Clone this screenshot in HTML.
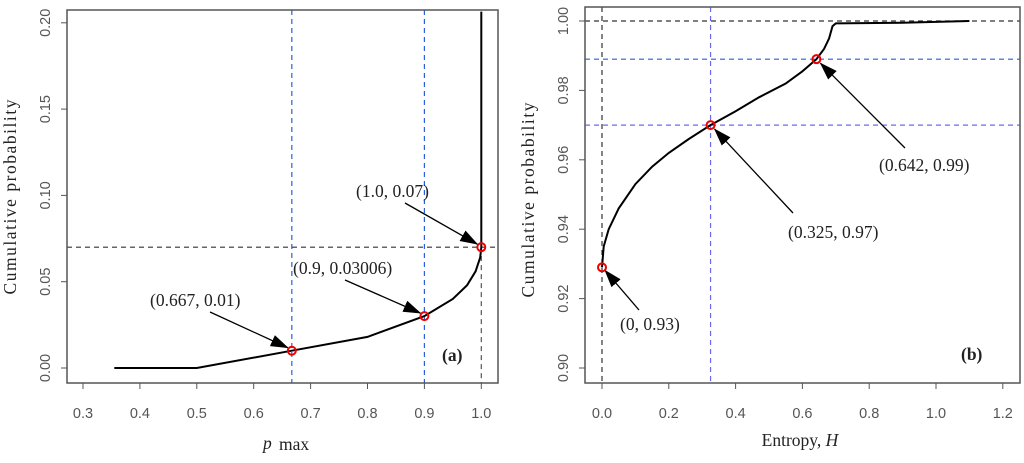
<!DOCTYPE html>
<html><head><meta charset="utf-8"><style>
body{margin:0;background:#fff;width:1024px;height:463px;overflow:hidden}
svg{display:block}
.tk{font-family:"Liberation Sans",sans-serif;font-size:14.5px;fill:#555}
.an{font-family:"Liberation Serif",serif;font-size:17.5px;fill:#222}
</style></head><body>
<svg id="c" width="1024" height="463"></svg>
<script>
// Panel (a)
const aXTicks=[0.3,0.4,0.5,0.6,0.7,0.8,0.9,1.0];
const aYTicks=[0.00,0.05,0.10,0.15,0.20];
const aCurveX=[0.355,0.5,0.667,0.8,0.9,0.95,0.975,0.99,0.998,1.0,1.0];
const aCurveY=[0,0,0.01,0.018,0.03006,0.04,0.048,0.056,0.064,0.07,0.2065];
const aPointsX=[0.667,0.9,1.0];
const aPointsY=[0.01,0.03006,0.07];
const aLabels=["(0.667, 0.01)","(0.9, 0.03006)","(1.0, 0.07)"];
// Panel (b)
const bXTicks=[0.0,0.2,0.4,0.6,0.8,1.0,1.2];
const bYTicks=[0.90,0.92,0.94,0.96,0.98,1.00];
const bCurveX=[0,0.005,0.02,0.05,0.1,0.15,0.2,0.26,0.325,0.4,0.47,0.55,0.6,0.642,0.665,0.68,0.69,0.7,0.9,1.1];
const bCurveY=[0.929,0.935,0.940,0.946,0.953,0.958,0.962,0.966,0.970,0.974,0.978,0.982,0.9855,0.989,0.992,0.995,0.9985,0.9993,0.9995,1.0];
const bPointsX=[0,0.325,0.642];
const bPointsY=[0.929,0.970,0.989];
const bLabels=["(0, 0.93)","(0.325, 0.97)","(0.642, 0.99)"];

const NS="http://www.w3.org/2000/svg";
const svg=document.getElementById('c');
function mk(tag,at,parent,txt){const e=document.createElementNS(NS,tag);for(const k in at)e.setAttribute(k,at[k]);if(txt!=null)e.textContent=txt;(parent||svg).appendChild(e);return e;}
const defs=mk('defs',{});
const m=mk('marker',{id:'ah',markerWidth:'18',markerHeight:'12',refX:'17',refY:'6',orient:'auto',markerUnits:'userSpaceOnUse'},defs);
mk('path',{d:'M0,0 L18,6 L0,12 Z',fill:'#000'},m);

// axis functions
const ax=v=>83+(v-0.3)/0.1*56.9, ay=v=>368-v/0.05*86.3;
const bx=v=>602+v/0.2*66.8, by=v=>368-(v-0.9)/0.02*69.4;

function panel(p){
 const g=mk('g',{});
 
 
 p.guides.forEach(gd=>{const l=mk('line',Object.assign({stroke:gd.c,'stroke-width':1.2,'stroke-dasharray':'5,4'},gd.a),g);
  });
 let d=p.cx.map((v,i)=>(i?'L':'M')+p.fx(v).toFixed(1)+','+p.fy(p.cy[i]).toFixed(1)).join(' ');
 const c=mk('path',{d:d,fill:'none',stroke:'#000','stroke-width':2},g);
 
 const f=mk('rect',{x:p.box[0],y:p.box[1],width:p.box[2]-p.box[0],height:p.box[3]-p.box[1],fill:'none',stroke:'#555','stroke-width':1.5},g);
 
 p.xt.forEach(t=>{const x=p.fx(t);mk('line',{x1:x,x2:x,y1:p.box[3],y2:p.box[3]+6,stroke:'#555'},g);
  const tx=mk('text',{x:x,y:p.box[3]+35,'text-anchor':'middle',class:'tk'},g,t.toFixed(1));
  });
 p.yt.forEach(t=>{const y=p.fy(t);mk('line',{x1:p.box[0]-6,x2:p.box[0],y1:y,y2:y,stroke:'#555'},g);
  const tx=mk('text',{x:p.box[0]-17,y:y,'text-anchor':'middle',class:'tk',transform:`rotate(-90 ${p.box[0]-17} ${y})`},g,t.toFixed(2));
  });
 p.px.forEach((v,i)=>{const x=p.fx(v),y=p.fy(p.py[i]);const an=p.ann[i];
  const a=mk('line',{x1:an.ax,y1:an.ay,x2:x+an.ox,y2:y+an.oy,stroke:'#000','stroke-width':1.3,'marker-end':'url(#ah)'},g);
  
  const pt=mk('circle',{cx:x,cy:y,r:4,fill:'none',stroke:'#e00','stroke-width':2},g);
  
  const tx=mk('text',{x:an.tx,y:an.ty,class:'an'},g,p.lab[i]);
  });
 const pl=mk('text',{x:p.pl[0],y:p.pl[1],class:'an','font-size':'20','font-weight':'bold'},g,p.plabel);
 
 const yl=mk('text',{x:p.yl[0],y:p.yl[1],'text-anchor':'middle',class:'an','font-size':'18',textLength:'195',transform:`rotate(-90 ${p.yl[0]} ${p.yl[1]})`},g,'Cumulative probability');
 
 return g;
}

panel({name:'panel-a',fx:ax,fy:ay,cx:aCurveX,cy:aCurveY,box:[67,10,498,383],xt:aXTicks,yt:aYTicks,px:aPointsX,py:aPointsY,lab:aLabels,
 guides:[{c:'#2a5fdc',n:'guide-v-0667',a:{x1:ax(0.667),x2:ax(0.667),y1:10,y2:383}},{c:'#2a5fdc',n:'guide-v-09',a:{x1:ax(0.9),x2:ax(0.9),y1:10,y2:383}},
 {c:'#333',n:'guide-h-007',a:{x1:67,x2:498,y1:ay(0.07),y2:ay(0.07)}},{c:'#555',n:'guide-v-1',a:{x1:ax(1),x2:ax(1),y1:ay(0.07),y2:383}}],
 ann:[{ax:210,ay:312,ox:-4,oy:-3,tx:150,ty:306},{ax:345,ay:280,ox:-4,oy:-3,tx:293,ty:274},{ax:405,ay:203,ox:-4,oy:-3,tx:356,ty:197}],
 pl:[442,361],plabel:'(a)',yl:[16,197]});
panel({name:'panel-b',fx:bx,fy:by,cx:bCurveX,cy:bCurveY,box:[585,7,1020,383],xt:bXTicks,yt:bYTicks,px:bPointsX,py:bPointsY,lab:bLabels,
 guides:[{c:'#333',n:'guide-h-1',a:{x1:585,x2:1020,y1:by(1),y2:by(1)}},{c:'#333',n:'guide-v-0',a:{x1:bx(0),x2:bx(0),y1:7,y2:383}},
 {c:'#2a5fdc',n:'guide-h-099',a:{x1:585,x2:1020,y1:by(0.989),y2:by(0.989)}},{c:'#6a6af0',n:'guide-h-097',a:{x1:585,x2:1020,y1:by(0.97),y2:by(0.97)}},
 {c:'#6a6af0',n:'guide-v-0325',a:{x1:bx(0.325),x2:bx(0.325),y1:7,y2:383}}],
 ann:[{ax:639,ay:310,ox:3,oy:3,tx:620,ty:330},{ax:793,ay:213,ox:4,oy:4,tx:788,ty:238},{ax:905,ay:148,ox:4,oy:4,tx:879,ty:171}],
 pl:[961,360],plabel:'(b)',yl:[534,200]});

const t1=mk('text',{x:263,y:449,class:'an','font-size':'28','font-style':'italic'},null,'p');

const t1s=mk('text',{x:279,y:450,class:'an','font-size':'15'},null,'max');

const t2=mk('text',{x:800,y:446,'text-anchor':'middle',class:'an','font-size':'22'},null,'');

t2.appendChild(document.createTextNode('Entropy, '));
const it=document.createElementNS(NS,'tspan');it.setAttribute('font-style','italic');it.textContent='H';t2.appendChild(it);
</script>
</body></html>
